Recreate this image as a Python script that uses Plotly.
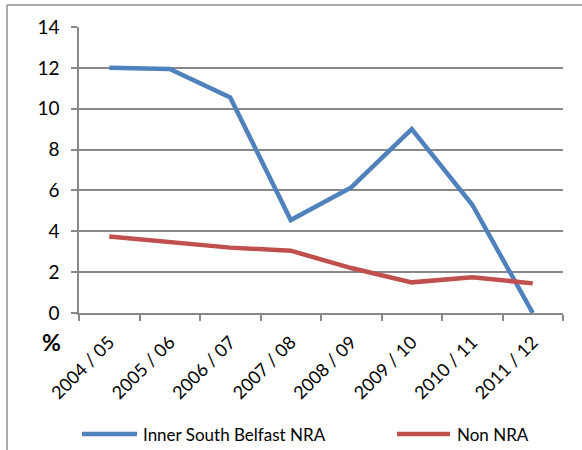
import plotly.graph_objects as go

# data
years = ["2004 / 05", "2005 / 06", "2006 / 07", "2007 / 08",
         "2008 / 09", "2009 / 10", "2010 / 11", "2011 / 12"]
inner_south = [12.0, 11.95, 10.55, 4.55, 6.15, 9.0, 5.3, 0.0]
non_nra = [3.75, 3.5, 3.2, 3.05, 2.2, 1.5, 1.75, 1.45]
series_names = ["Inner South Belfast NRA", "Non NRA"]
colors = ["#4F81BD", "#C0504D"]

W, H = 582, 450
L, R, T, B = 79, 19, 27, 137
pw, ph = W - L - R, H - T - B


def px(x):
    return (x - L) / pw


def py(y):
    return (H - B - y) / ph


fig = go.Figure()
for name, vals, col in zip(series_names, [inner_south, non_nra], colors):
    fig.add_trace(go.Scatter(x=years, y=vals, mode='lines', name=name,
                             line=dict(color=col, width=4.5), showlegend=False))

grid = '#888888'
fam = 'Lato, Carlito, Calibri, sans-serif'

fig.update_layout(
    width=W, height=H,
    margin=dict(l=L, r=R, t=T, b=B, autoexpand=False),
    paper_bgcolor='white', plot_bgcolor='white',
    font=dict(family=fam, size=18, color='#000000'),
    xaxis=dict(type='category', showline=True, linecolor=grid, linewidth=1.5,
               ticks='outside', tickson='boundaries', ticklen=6, tickcolor=grid,
               tickwidth=1.5, tickangle=-45, showgrid=False, zeroline=False,
               range=[-0.5, len(years) - 0.5], automargin=False,
               ticklabelstandoff=10, tickfont=dict(size=18)),
    yaxis=dict(range=[0, 14], dtick=2, showline=True, linecolor=grid, linewidth=1.5,
               ticks='outside', ticklen=6, tickcolor=grid, tickwidth=1.5,
               showgrid=True, gridcolor=grid, gridwidth=1.5, zeroline=False,
               ticklabelstandoff=8, automargin=False, tickfont=dict(size=19)),
)

# outer chart frame (left and top edges visible)
fig.add_shape(type='line', xref='paper', yref='paper', x0=px(7), x1=px(590),
              y0=py(5), y1=py(5), line=dict(color='#8c8c8c', width=1.5))
fig.add_shape(type='line', xref='paper', yref='paper', x0=px(7), x1=px(7),
              y0=py(5), y1=py(460), line=dict(color='#8c8c8c', width=1.5))

# "%" axis label
fig.add_annotation(text='<b>%</b>', xref='paper', yref='paper', x=px(51), y=py(342),
                   xanchor='center', yanchor='middle', showarrow=False,
                   font=dict(family=fam, size=23))

# legend drawn by hand to match the long line samples
legend_pos = [(82, 137, 141), (397, 450, 455)]
for (x0, x1, xt), name, col in zip(legend_pos, series_names, colors):
    fig.add_shape(type='line', xref='paper', yref='paper', x0=px(x0), x1=px(x1),
                  y0=py(434), y1=py(434), line=dict(color=col, width=4.5))
    fig.add_annotation(text=name, xref='paper', yref='paper', x=px(xt), y=py(434),
                       xanchor='left', yanchor='middle', showarrow=False,
                       font=dict(family=fam, size=17))

# the page's default body margin would shift the whole figure by 8px
fig.write_html("out.html", config={'displayModeBar': False},
               post_script="document.body.style.margin='0px';")
